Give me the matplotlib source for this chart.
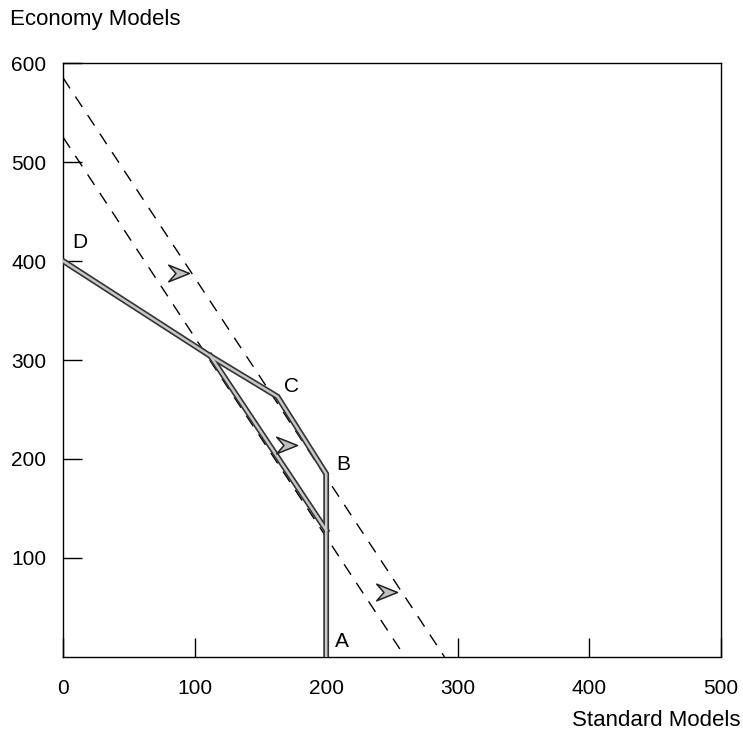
import matplotlib.pyplot as plt
from matplotlib.path import Path

plt.rcParams['font.family'] = ['Liberation Sans', 'DejaVu Sans']

# corner points of the feasible region (Standard, Economy)
upper_x = [0, 112, 163, 200, 200]
upper_y = [400, 304, 263, 185, 0]
lower_x = [112, 200]
lower_y = [304, 128]

# iso-profit lines
iso1_x = [0, 260]
iso1_y = [525, 0]
iso2_x = [0, 290]
iso2_y = [585, 0]

# arrow tips (direction of improvement)
arrow_x = [96, 178, 254]
arrow_y = [388, 214, 66]

# point labels
lab_text = ['D', 'C', 'B', 'A']
lab_x = [13, 174, 213, 212]
lab_y = [419, 273, 194, 16]

xticks = [0, 100, 200, 300, 400, 500]
yticks = [100, 200, 300, 400, 500, 600]

fig = plt.figure(figsize=(7.43, 7.34), dpi=100)
ax = fig.add_axes([0.085, 0.105, 0.885, 0.809])

# double outlined lines
for xs, ys in [(upper_x, upper_y), (lower_x, lower_y)]:
    ax.plot(xs, ys, color='#333333', lw=4.2, solid_joinstyle='miter', zorder=3)
    ax.plot(xs, ys, color='#c8c8c8', lw=1.8, solid_joinstyle='miter', zorder=4)

ax.plot(iso1_x, iso1_y, color='black', lw=1, dashes=(9, 7), zorder=2)
ax.plot(iso2_x, iso2_y, color='black', lw=1, dashes=(9, 7), zorder=2)

# chevron shaped arrow head, tip at (0, 0)
chevron = Path([(0, 0), (-1, 0.4), (-0.65, 0), (-1, -0.4), (0, 0)],
               [Path.MOVETO, Path.LINETO, Path.LINETO, Path.LINETO, Path.CLOSEPOLY])
ax.plot(arrow_x, arrow_y, linestyle='none', marker=chevron, markersize=30,
        markerfacecolor='#c0c0c0', markeredgecolor='#222222', markeredgewidth=1.1, zorder=5)

for t, x, y in zip(lab_text, lab_x, lab_y):
    ax.text(x, y, t, fontsize=15, ha='center', va='center', zorder=6)

ax.set_xlim(0, 500)
ax.set_ylim(0, 600)
ax.set_xticks(xticks)
ax.set_yticks(yticks)
ax.tick_params(direction='in', length=14, width=1, labelsize=15, pad=16)
ax.tick_params(axis='y', pad=12)
for s in ax.spines.values():
    s.set_linewidth(1)

fig.text(0.013, 0.973, 'Economy Models', fontsize=16, ha='left', va='center')
fig.text(0.997, 0.019, 'Standard Models', fontsize=16, ha='right', va='center')

fig.savefig('out.png', dpi=100)
